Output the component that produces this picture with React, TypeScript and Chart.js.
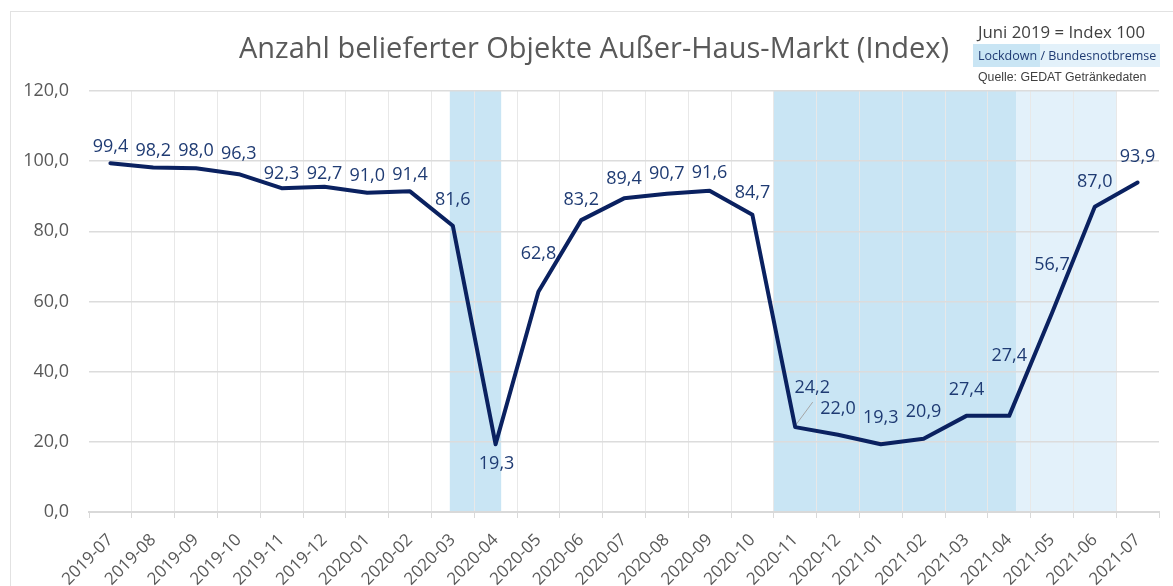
import React, { useEffect, useRef } from "react";
import { Chart, registerables } from "chart.js";

Chart.register(...registerables);

// ---- Data ----
const categories = [
  "2019-07", "2019-08", "2019-09", "2019-10", "2019-11", "2019-12",
  "2020-01", "2020-02", "2020-03", "2020-04", "2020-05", "2020-06",
  "2020-07", "2020-08", "2020-09", "2020-10", "2020-11", "2020-12",
  "2021-01", "2021-02", "2021-03", "2021-04", "2021-05", "2021-06", "2021-07",
];
const indexValues = [
  99.4, 98.2, 98.0, 96.3, 92.3, 92.7, 91.0, 91.4, 81.6, 19.3, 62.8, 83.2,
  89.4, 90.7, 91.6, 84.7, 24.2, 22.0, 19.3, 20.9, 27.4, 27.4, 56.7, 87.0, 93.9,
];
const yTicks = [0, 20, 40, 60, 80, 100, 120];
// shaded periods, in category-boundary units (0 = left edge of first month)
const lockdownStart = [8.43, 16.0];
const lockdownEnd = [9.63, 21.66];
const notbremseStart = [21.66];
const notbremseEnd = [24.0];

// ---- Style (label placement relative to each point, px) ----
const labelDx = [0, 0, 0, 0, 0, 0, 0, 0, 0, 1, 0, 0, 0, 0, 0, 0, 17, 0, 0, 0, 0, 0, 0, 0, 0];
const labelDy = [
  -16.4, -16.6, -17.3, -20.7, -14.7, -13.3, -17, -16, -25.5, 19.3, -38, -20.6,
  -19, -20, -18, -22, -39.5, -26, -26.7, -26.7, -25.6, -59.6, -48, -25, -25.7,
];
const leaderIndex = 16;

const NAVY = "#0a2160";
const LABEL = "#1f3b73";
const BAND_DARK = "#c9e5f4";
const BAND_LIGHT = "#e3f1fa";
const fmt = (v: number) => v.toFixed(1).replace(".", ",");

const bandsPlugin = {
  id: "bands",
  beforeDraw(chart: any) {
    const { ctx, chartArea, scales } = chart;
    const x = scales.x;
    const px = (b: number) => x.getPixelForValue(b - 0.5);
    ctx.save();
    const fill = (a: number, b: number, c: string) => {
      ctx.fillStyle = c;
      ctx.fillRect(px(a), chartArea.top, px(b) - px(a), chartArea.bottom - chartArea.top);
    };
    lockdownStart.forEach((s, i) => fill(s, lockdownEnd[i], BAND_DARK));
    notbremseStart.forEach((s, i) => fill(s, notbremseEnd[i], BAND_LIGHT));
    ctx.restore();
  },
};

const labelsPlugin = {
  id: "valueLabels",
  beforeDatasetsDraw(chart: any) {
    const meta = chart.getDatasetMeta(0);
    const pt = meta.data[leaderIndex];
    if (!pt) return;
    const ctx = chart.ctx;
    ctx.save();
    ctx.strokeStyle = "#a6a6a6";
    ctx.lineWidth = 1;
    ctx.beginPath();
    ctx.moveTo(pt.x + 0.5, pt.y - 2);
    ctx.lineTo(pt.x + 17.5, pt.y - 25);
    ctx.stroke();
    ctx.restore();
  },
  afterDatasetsDraw(chart: any) {
    const meta = chart.getDatasetMeta(0);
    const ctx = chart.ctx;
    ctx.save();
    ctx.font = "18px 'Open Sans'";
    ctx.fillStyle = LABEL;
    ctx.textAlign = "center";
    ctx.textBaseline = "middle";
    meta.data.forEach((p: any, i: number) => {
      ctx.fillText(fmt(indexValues[i]), p.x + labelDx[i], p.y + labelDy[i]);
    });
    ctx.restore();
  },
};

export default function App() {
  const ref = useRef<HTMLCanvasElement | null>(null);
  useEffect(() => {
    if (!ref.current) return;
    const chart = new Chart(ref.current, {
      type: "line",
      data: {
        labels: categories,
        datasets: [
          {
            data: indexValues,
            borderColor: NAVY,
            borderWidth: 4,
            pointRadius: 0,
            tension: 0,
            borderJoinStyle: "round",
            borderCapStyle: "round",
            fill: false,
          },
        ],
      },
      options: {
        responsive: false,
        animation: false,
        devicePixelRatio: 1,
        layout: { padding: { left: 0, top: 91, right: 14, bottom: 0 } },
        plugins: { legend: { display: false }, tooltip: { enabled: false }, title: { display: false } },
        scales: {
          x: {
            type: "category",
            offset: true,
            grid: {
              offset: true,
              color: (c: any) => (c.type === "tick" && c.index > 0 ? "#e8e8e8" : "rgba(0,0,0,0)"),
              tickColor: "#d9d9d9",
              tickLength: 6,
              lineWidth: 1,
            },
            border: { display: true, color: "#d9d9d9", width: 2 },
            ticks: {
              autoSkip: false,
              minRotation: 45,
              maxRotation: 45,
              color: "#595959",
              font: { family: "'Open Sans'", size: 17 },
              padding: 12,
            },
            afterFit: (s: any) => {
              s.height = 74;
            },
          },
          y: {
            min: 0,
            max: 120,
            afterBuildTicks: (s: any) => {
              s.ticks = yTicks.map((v) => ({ value: v }));
            },
            grid: { color: "#dcdcdc", lineWidth: 1.5, drawTicks: false },
            border: { display: false },
            ticks: {
              color: "#595959",
              font: { family: "'Open Sans'", size: 18 },
              padding: 20,
              callback: (v: any) => fmt(Number(v)),
            },
            afterFit: (s: any) => {
              s.width = 89;
            },
          },
        },
      },
      plugins: [bandsPlugin, labelsPlugin],
    });
    return () => chart.destroy();
  }, []);

  return (
    <div
      style={{
        position: "fixed",
        left: 0,
        top: 0,
        width: 1173,
        height: 586,
        overflow: "hidden",
        background: "#fff",
      }}
    >
      <div
        style={{
          position: "absolute",
          left: 10,
          top: 11,
          width: 1200,
          height: 700,
          border: "1px solid #e2e2e2",
        }}
      />
      <canvas ref={ref} width={1173} height={586} style={{ position: "absolute", left: 0, top: 0 }} />
      <div
        style={{
          position: "absolute",
          left: 594,
          top: 29,
          transform: "translateX(-50%)",
          whiteSpace: "nowrap",
          fontFamily: "'Open Sans'",
          fontSize: 29,
          lineHeight: "36px",
          color: "#595959",
        }}
      >
        Anzahl belieferter Objekte Außer-Haus-Markt (Index)
      </div>
      <div
        style={{
          position: "absolute",
          left: 978,
          top: 20,
          whiteSpace: "nowrap",
          fontFamily: "'Open Sans'",
          fontSize: 16.8,
          lineHeight: "24px",
          color: "#404040",
        }}
      >
        Juni 2019 = Index 100
      </div>
      <div
        style={{
          position: "absolute",
          left: 973,
          top: 44,
          height: 23,
          whiteSpace: "nowrap",
          fontFamily: "'Open Sans'",
          fontSize: 12.5,
          lineHeight: "23px",
          color: LABEL,
          display: "flex",
        }}
      >
        <span style={{ background: BAND_DARK, paddingLeft: 5 }}>Lockdown&nbsp;</span>
        <span style={{ background: BAND_LIGHT, paddingRight: 4 }}>/ Bundesnotbremse</span>
      </div>
      <div
        style={{
          position: "absolute",
          left: 978,
          top: 69,
          whiteSpace: "nowrap",
          fontFamily: "'Liberation Sans', Arial, sans-serif",
          fontSize: 12.3,
          lineHeight: "16px",
          color: "#404040",
        }}
      >
        Quelle: GEDAT Getränkedaten
      </div>
    </div>
  );
}
